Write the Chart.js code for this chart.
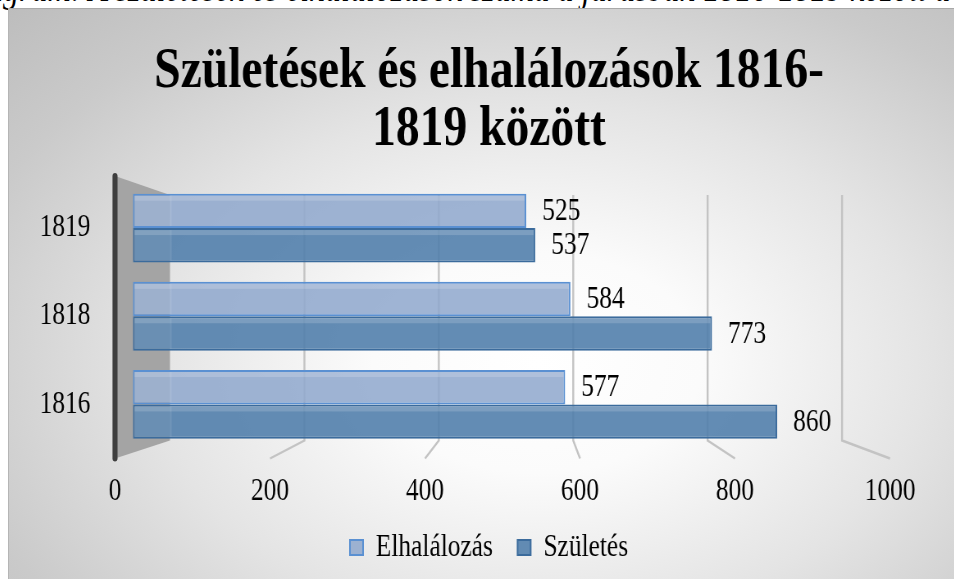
<!DOCTYPE html>
<html>
<head>
<meta charset="utf-8">
<script src="https://cdn.jsdelivr.net/npm/chart.js@4.4.1/dist/chart.umd.min.js"></script>
<style>
  html, body { margin: 0; padding: 0; width: 954px; height: 579px; overflow: hidden; background: #ffffff; }
  #caption { position: absolute; left: -45px; top: -32px; white-space: nowrap;
    font-family: 'Liberation Serif', serif; font-style: italic; font-size: 39px; line-height: 39px;
    color: #000; transform: scaleX(0.82); transform-origin: 0 0; }
  #frame { position: absolute; left: 8px; top: 8px; width: 962px; height: 572px; overflow: hidden;
    border-top: 1px solid #a9a9a9; border-left: 1px solid #b5b5b5; box-sizing: border-box;
    background: radial-gradient(ellipse farthest-corner at 55% 62%, #ffffff 0%, #fbfbfb 22%, #e4e4e4 52%, #cacaca 80%, #bdbdbd 100%); }
  #wrap { position: absolute; left: -1px; top: -1px; height: 572px; transform-origin: 0 0; }
</style>
</head>
<body>
<div id="caption">Diagram: A születések és elhalálozások száma a járásban 1816-1819 között a</div>
<div id="frame"><div id="wrap"><canvas id="c"></canvas></div></div>
<script>
// ---- data ----
const categories = ['1819', '1818', '1816'];
const elhalalozas = [525, 584, 577];
const szuletes = [537, 773, 860];
const xTickValues = [0, 200, 400, 600, 800, 1000];
const seriesNames = ['Elhalálozás', 'Születés'];
const titleLines = ['Születések és elhalálozások 1816-', '1819 között'];

// ---- layout helpers ----
const S = 0.82;               // horizontal condensation of the reference picture
const W = 962 / S;
const wrap = document.getElementById('wrap');
wrap.style.width = W + 'px';
wrap.style.transform = 'scaleX(' + S + ')';

const FONT = 'Liberation Serif';

const decoPlugin = {
  id: 'deco',
  beforeDatasetsDraw(chart) {
    const ctx = chart.ctx;
    const a = chart.chartArea;
    const xf = chart.scales.x2, xb = chart.scales.xg;
    const frontTop = a.top - 8, frontBottom = a.bottom + 10;
    const backTop = a.top + 11, backBottom = a.bottom - 8;
    ctx.save();
    // back / floor grid lines
    ctx.strokeStyle = '#c3c3c3';
    ctx.lineWidth = 2.4;
    xTickValues.forEach(v => {
      if (v === 0) return;
      const xb0 = xb.getPixelForValue(v);
      const xf0 = xf.getPixelForValue(v);
      ctx.beginPath();
      ctx.moveTo(xb0, backTop);
      ctx.lineTo(xb0, backBottom);
      ctx.lineTo(xf0, frontBottom);
      ctx.stroke();
    });
    // side wall
    const wf = xf.getPixelForValue(0), wb = xb.getPixelForValue(0);
    ctx.fillStyle = '#a4a4a4';
    ctx.beginPath();
    ctx.moveTo(wf, frontTop);
    ctx.lineTo(wb, backTop);
    ctx.lineTo(wb, backBottom);
    ctx.lineTo(wf, frontBottom);
    ctx.closePath();
    ctx.fill();
    ctx.strokeStyle = '#3e3e3e';
    ctx.lineWidth = 5 / S;
    ctx.lineCap = 'round';
    ctx.beginPath();
    ctx.moveTo(wf, frontTop);
    ctx.lineTo(wf, frontBottom);
    ctx.stroke();
    ctx.restore();
  },
  afterDatasetsDraw(chart) {
    const ctx = chart.ctx;
    const xb = chart.scales.xg;
    ctx.save();
    chart.data.datasets.forEach((ds, di) => {
      const meta = chart.getDatasetMeta(di);
      meta.data.forEach((el, i) => {
        const h = el.height;
        const top = el.y - h / 2;
        // 3D-ish highlights: top strip and the near end face
        ctx.fillStyle = 'rgba(255,255,255,0.16)';
        ctx.fillRect(el.base + 2, top + 2, el.x - el.base - 4, 5);
        ctx.fillStyle = 'rgba(255,255,255,0.10)';
        ctx.fillRect(el.base + 2, top + 2, xb.getPixelForValue(0) - el.base, h - 4);
        // value label
        ctx.fillStyle = '#000';
        ctx.font = '31px "' + FONT + '"';
        ctx.textAlign = 'left';
        ctx.textBaseline = 'middle';
        ctx.fillText(String(ds.data[i]), el.x + 16 / S, el.y + 1);
      });
    });
    ctx.restore();
  }
};

new Chart(document.getElementById('c'), {
  type: 'bar',
  data: {
    labels: categories,
    datasets: [
      { label: seriesNames[0], data: elhalalozas, xAxisID: 'x', yAxisID: 'y',
        backgroundColor: 'rgba(143,168,205,0.86)', borderColor: '#5a90d2', borderWidth: 2,
        borderSkipped: false, categoryPercentage: 0.78, barPercentage: 1 },
      { label: seriesNames[1], data: szuletes, xAxisID: 'x', yAxisID: 'y',
        backgroundColor: 'rgba(82,128,172,0.9)', borderColor: '#3b6b9c', borderWidth: 2,
        borderSkipped: false, categoryPercentage: 0.78, barPercentage: 1 }
    ]
  },
  options: {
    indexAxis: 'y',
    responsive: true,
    maintainAspectRatio: false,
    animation: false,
    devicePixelRatio: 1,
    layout: { padding: { top: 0, left: 0, right: 0, bottom: 7 } },
    scales: {
      x: { type: 'linear', min: -24, max: 1010.7, display: false },
      xg: { type: 'linear', axis: 'x', min: -81.8, max: 1071.4, display: false },
      x2: { type: 'linear', axis: 'x', position: 'bottom', min: 0, max: 1000,
        grid: { display: false, drawTicks: false }, border: { display: false },
        ticks: { padding: 25, color: '#000', font: { family: FONT, size: 31 }, autoSkip: false, maxRotation: 0,
          callback: v => String(v) },
        afterBuildTicks: s => { s.ticks = xTickValues.map(v => ({ value: v })); },
        afterFit: s => { s.height = 53.5; } },
      y: { type: 'category', position: 'left',
        grid: { display: false, drawTicks: false }, border: { display: false },
        ticks: { padding: 30, color: '#000', font: { family: FONT, size: 31 } },
        afterFit: s => { s.width = 107 / S; } },
      yR: { type: 'linear', position: 'right', min: 0, max: 1,
        grid: { display: false, drawTicks: false }, border: { display: false },
        ticks: { display: false },
        afterFit: s => { s.width = 80 / S; } }
    },
    plugins: {
      title: { display: true, text: titleLines, color: '#000',
        font: { family: FONT, size: 58, weight: 'bold', lineHeight: 1.0 },
        padding: { top: 35, bottom: 25 } },
      legend: { position: 'bottom',
        labels: { color: '#000', font: { family: FONT, size: 31 }, boxWidth: 16, boxHeight: 15, padding: 30 } },
      tooltip: { enabled: false }
    }
  },
  plugins: [decoPlugin]
});
</script>
</body>
</html>
